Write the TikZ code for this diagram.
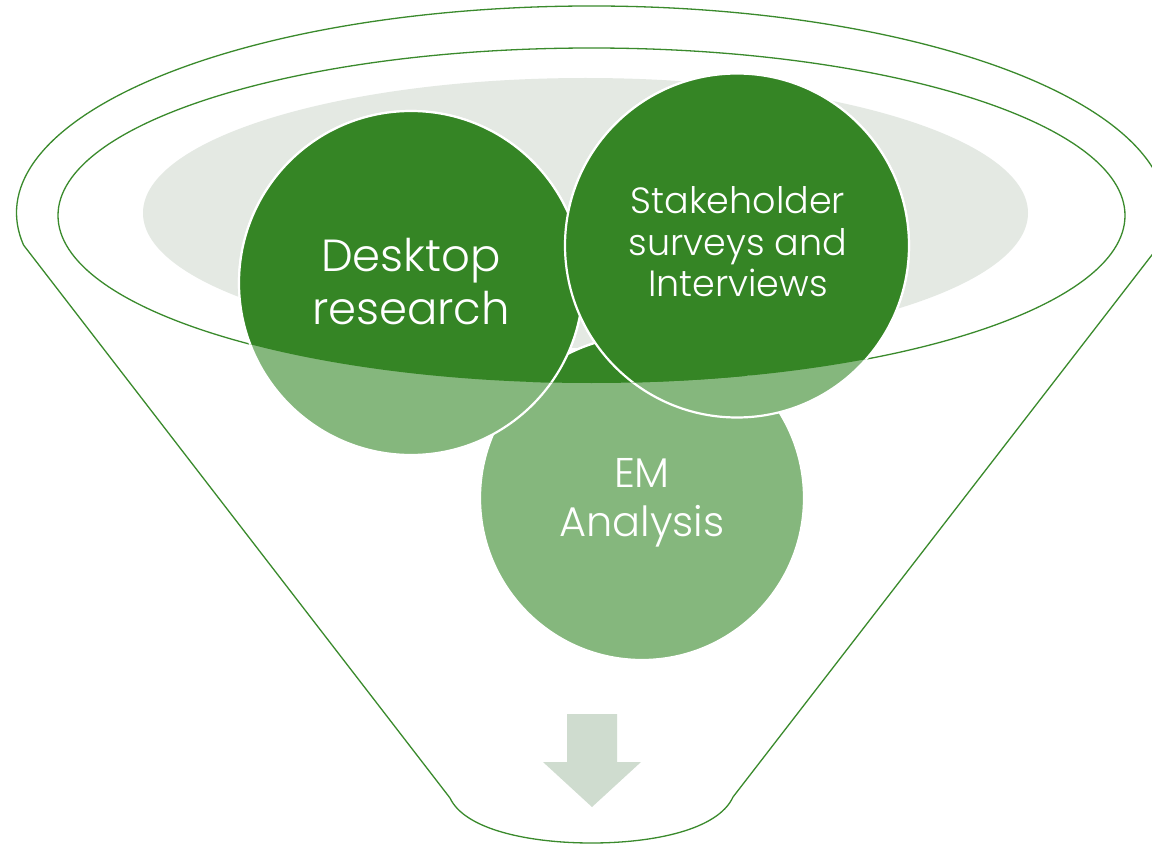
\documentclass[tikz,border=0pt]{standalone}
\usepackage{fontspec}
\setmainfont{Poppins}[UprightFont=* Light]
\definecolor{darkg}{RGB}{53,133,37}
\definecolor{lightg}{RGB}{133,183,125}
\definecolor{grayell}{RGB}{228,233,227}
\definecolor{arrowc}{RGB}{207,220,207}
\definecolor{linec}{RGB}{58,138,44}
\begin{document}
\begin{tikzpicture}[x=1pt,y=-1pt,
  outline/.style={draw=linec, line width=1.3pt},
  bubble/.style={draw=white, line width=2.2pt},
  lbl/.style={text=white, align=center, inner sep=0pt}]
\useasboundingbox (0,0) rectangle (1152,845);
\clip (0,0) rectangle (1152,845);
\fill[white] (0,0) rectangle (1152,845);
% key points
\coordinate (ic) at (591.5,215.5);
\coordinate (gc) at (585.5,213);
\coordinate (dc) at (411,283);
\coordinate (sc) at (737,245.5);
\coordinate (ec) at (642,498);
\coordinate (fl) at (23.5,245);
\coordinate (br) at (733,797);
\coordinate (bb) at (591.5,843);
\coordinate (bl) at (450,798);
% funnel outline
\draw[outline] (fl) arc[start angle=171.1, end angle=368.9, x radius=575, y radius=207]
  -- (br) .. controls (718,830) and (653,843) .. (bb)
  .. controls (530,843) and (465,830) .. (bl) -- cycle;
\draw[outline] (ic) ellipse [x radius=533.5, y radius=167.5];
% grey mouth
\fill[grayell] (gc) ellipse [x radius=442.5, y radius=135];
% bubbles, light
\path[bubble, fill=lightg] (ec) circle[radius=162];
\path[bubble, fill=lightg] (dc) circle[radius=172];
\path[bubble, fill=lightg] (sc) circle[radius=172];
% bubbles, dark inside the funnel mouth
\begin{scope}
  \clip (ic) ellipse [x radius=533.5, y radius=167.5];
  \path[bubble, fill=darkg] (ec) circle[radius=162];
  \path[bubble, fill=darkg] (dc) circle[radius=172];
  \path[bubble, fill=darkg] (sc) circle[radius=172];
\end{scope}
% down arrow
\fill[arrowc] (567,714) -- (617,714) -- (617,762) -- (641,762) -- (592,807)
  -- (543,762) -- (567,762) -- cycle;
% labels
\node[lbl, font=\fontsize{45}{53}\selectfont] (dt) at (411,282) {Desktop\\research};
\node[lbl, font=\fontsize{36.5}{41.5}\selectfont] (st) at (738,242) {Stakeholder\\surveys and\\Interviews};
\node[lbl, font=\fontsize{41.5}{49}\selectfont] (et) at (642,503) {EM\\Analysis};
\end{tikzpicture}
\end{document}
